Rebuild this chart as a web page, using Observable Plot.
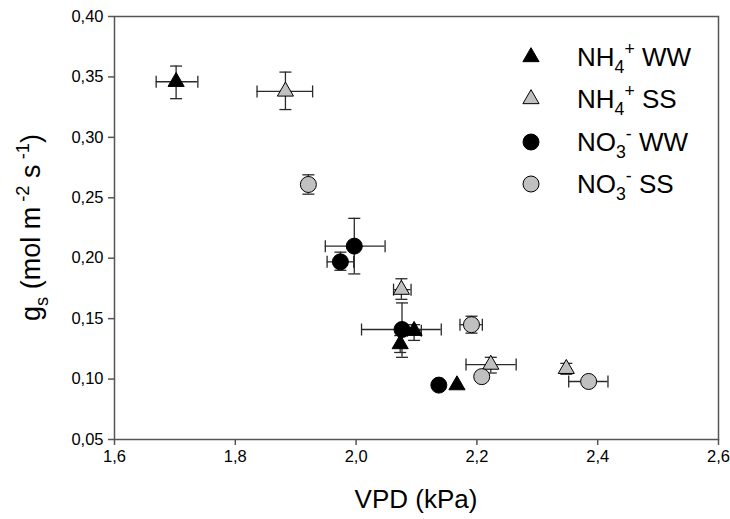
<!DOCTYPE html>
<html><head><meta charset="utf-8">
<script src="https://cdn.jsdelivr.net/npm/d3@7"></script>
<script src="https://cdn.jsdelivr.net/npm/@observablehq/plot@0.6"></script>
<style>
body{margin:0;background:#fff}
#chart{width:730px;height:519px}
</style>
</head><body><div id="chart"></div>
<script>
// ---- data ----
const seriesKeys = ["NH4WW", "NH4SS", "NO3WW", "NO3SS"];
const group = ["NH4WW","NH4WW","NH4WW","NH4WW",
               "NH4SS","NH4SS","NH4SS","NH4SS",
               "NO3WW","NO3WW","NO3WW","NO3WW",
               "NO3SS","NO3SS","NO3SS","NO3SS"];
const vpd   = [1.702, 2.073, 2.096, 2.167,
               1.883, 2.075, 2.223, 2.348,
               1.974, 1.997, 2.076, 2.137,
               1.921, 2.191, 2.208, 2.385];
const gs    = [0.346, 0.129, 0.140, 0.095,
               0.338, 0.174, 0.112, 0.1085,
               0.197, 0.210, 0.141, 0.095,
               0.261, 0.145, 0.102, 0.098];
const vpdLo = [1.669, null, 2.085, null,
               1.836, 2.062, 2.182, null,
               1.952, 1.949, 2.009, null,
               null, 2.172, null, 2.352];
const vpdHi = [1.738, null, 2.108, null,
               1.928, 2.091, 2.265, null,
               1.996, 2.048, 2.141, null,
               null, 2.209, null, 2.417];
const gsLo  = [0.332, 0.122, 0.132, null,
               0.323, 0.166, 0.105, 0.104,
               0.190, 0.187, 0.118, null,
               0.253, 0.138, null, null];
const gsHi  = [0.359, 0.136, 0.145, null,
               0.354, 0.183, 0.118, 0.113,
               0.205, 0.233, 0.163, null,
               0.269, 0.152, null, null];
const xTicks = [1.6, 1.8, 2.0, 2.2, 2.4, 2.6];
const yTicks = [0.05, 0.10, 0.15, 0.20, 0.25, 0.30, 0.35, 0.40];

// legend labels as rich-text parts
const legendLabels = [
  [{t:"NH"},{t:"4",sub:true},{t:"+",sup:true},{t:" WW"}],
  [{t:"NH"},{t:"4",sub:true},{t:"+",sup:true},{t:" SS"}],
  [{t:"NO"},{t:"3",sub:true},{t:"-",sup:true},{t:" WW"}],
  [{t:"NO"},{t:"3",sub:true},{t:"-",sup:true},{t:" SS"}]
];
const xTitle = [{t:"VPD (kPa)"}];
const yTitle = [{t:"g"},{t:"s",sub:true},{t:" (mol m"},{t:" -2",sup:true},{t:" s"},{t:" -1",sup:true},{t:")"}];

// ---- styles ----
const style = {
  NH4WW: {symbol: "triangle", fill: "#000", r: 6},
  NH4SS: {symbol: "triangle", fill: "#c0c0c0", r: 6},
  NO3WW: {symbol: "circle", fill: "#000", r: 8},
  NO3SS: {symbol: "circle", fill: "#c0c0c0", r: 8}
};
const FONT = "'Liberation Sans', Arial, Helvetica, sans-serif";

const rows = vpd.map((v, i) => ({
  group: group[i], vpd: v, gs: gs[i],
  xlo: vpdLo[i], xhi: vpdHi[i], ylo: gsLo[i], yhi: gsHi[i]
}));
const xErr = rows.filter(d => d.xlo != null);
const yErr = rows.filter(d => d.ylo != null);
const xCaps = xErr.flatMap(d => [{x: d.xlo, y: d.gs}, {x: d.xhi, y: d.gs}]);
const yCaps = yErr.flatMap(d => [{x: d.vpd, y: d.ylo}, {x: d.vpd, y: d.yhi}]);

const vCap = {draw(ctx, size) { const r = Math.sqrt(size / Math.PI); ctx.moveTo(0, -r); ctx.lineTo(0, r); }};
const hCap = {draw(ctx, size) { const r = Math.sqrt(size / Math.PI); ctx.moveTo(-r, 0); ctx.lineTo(r, 0); }};

const ERR = "#2a2a2a";
const AX = "#555";

const chart = Plot.plot({
  width: 730, height: 519,
  marginLeft: 114, marginRight: 12, marginTop: 16, marginBottom: 80,
  x: {domain: [1.6, 2.6]},
  y: {domain: [0.05, 0.40]},
  style: {fontFamily: FONT, fontSize: "16px", color: "#000", background: "#fff", overflow: "visible"},
  marks: [
    Plot.axisX({ticks: xTicks, tickFormat: d => d.toFixed(1).replace(".", ","), tickSize: 6, tickPadding: 5,
                stroke: AX, strokeWidth: 1.5, label: null, fontSize: 16.5, fill: "#000"}),
    Plot.axisY({ticks: yTicks, tickFormat: d => d.toFixed(2).replace(".", ","), tickSize: 6, tickPadding: 5,
                stroke: AX, strokeWidth: 1.5, label: null, fontSize: 16.5, fill: "#000"}),
    Plot.frame({stroke: AX, strokeWidth: 1.5}),
    Plot.ruleY(xErr, {y: "gs", x1: "xlo", x2: "xhi", stroke: ERR, strokeWidth: 1.3}),
    Plot.ruleX(yErr, {x: "vpd", y1: "ylo", y2: "yhi", stroke: ERR, strokeWidth: 1.3}),
    Plot.dot(xCaps, {x: "x", y: "y", symbol: vCap, r: 6, fill: "none", stroke: ERR, strokeWidth: 1.3}),
    Plot.dot(yCaps, {x: "x", y: "y", symbol: hCap, r: 6, fill: "none", stroke: ERR, strokeWidth: 1.3}),
    ...seriesKeys.map(k => Plot.dot(rows.filter(d => d.group === k), {
      x: "vpd", y: "gs", symbol: style[k].symbol, r: style[k].r,
      fill: style[k].fill, stroke: "#000", strokeWidth: 1
    }))
  ]
});

document.getElementById("chart").appendChild(chart);
const svg = d3.select(chart);

function rich(sel, parts, fs) {
  let cur = 0;
  parts.forEach(p => {
    const target = p.sub ? 0.28 * fs : p.sup ? -0.42 * fs : 0;
    const ts = sel.append("tspan").text(p.t).attr("dy", target - cur);
    if (p.sub || p.sup) ts.attr("font-size", 0.68 * fs);
    cur = target;
  });
}

// axis titles
const xt = svg.append("text").attr("x", (114 + 718) / 2).attr("y", 508)
  .attr("text-anchor", "middle").attr("font-family", FONT).attr("font-size", 26).attr("fill", "#000");
rich(xt, xTitle, 26);
const yt = svg.append("text").attr("transform", `translate(40,${(16 + 439) / 2}) rotate(-90)`)
  .attr("text-anchor", "middle").attr("font-family", FONT).attr("font-size", 27).attr("fill", "#000");
rich(yt, yTitle, 27);

// legend
const legY = [57, 99, 142, 184];
seriesKeys.forEach((k, i) => {
  const s = style[k];
  const sym = s.symbol === "triangle" ? d3.symbolTriangle : d3.symbolCircle;
  svg.append("path").attr("d", d3.symbol(sym, s.r * s.r * Math.PI)())
    .attr("transform", `translate(531,${legY[i]})`)
    .attr("fill", s.fill).attr("stroke", "#000").attr("stroke-width", 1);
  const t = svg.append("text").attr("x", 577).attr("y", legY[i] + 9)
    .attr("text-anchor", "start")
    .attr("font-family", FONT).attr("font-size", 26).attr("fill", "#000");
  rich(t, legendLabels[i], 26);
});
</script>
</body></html>
